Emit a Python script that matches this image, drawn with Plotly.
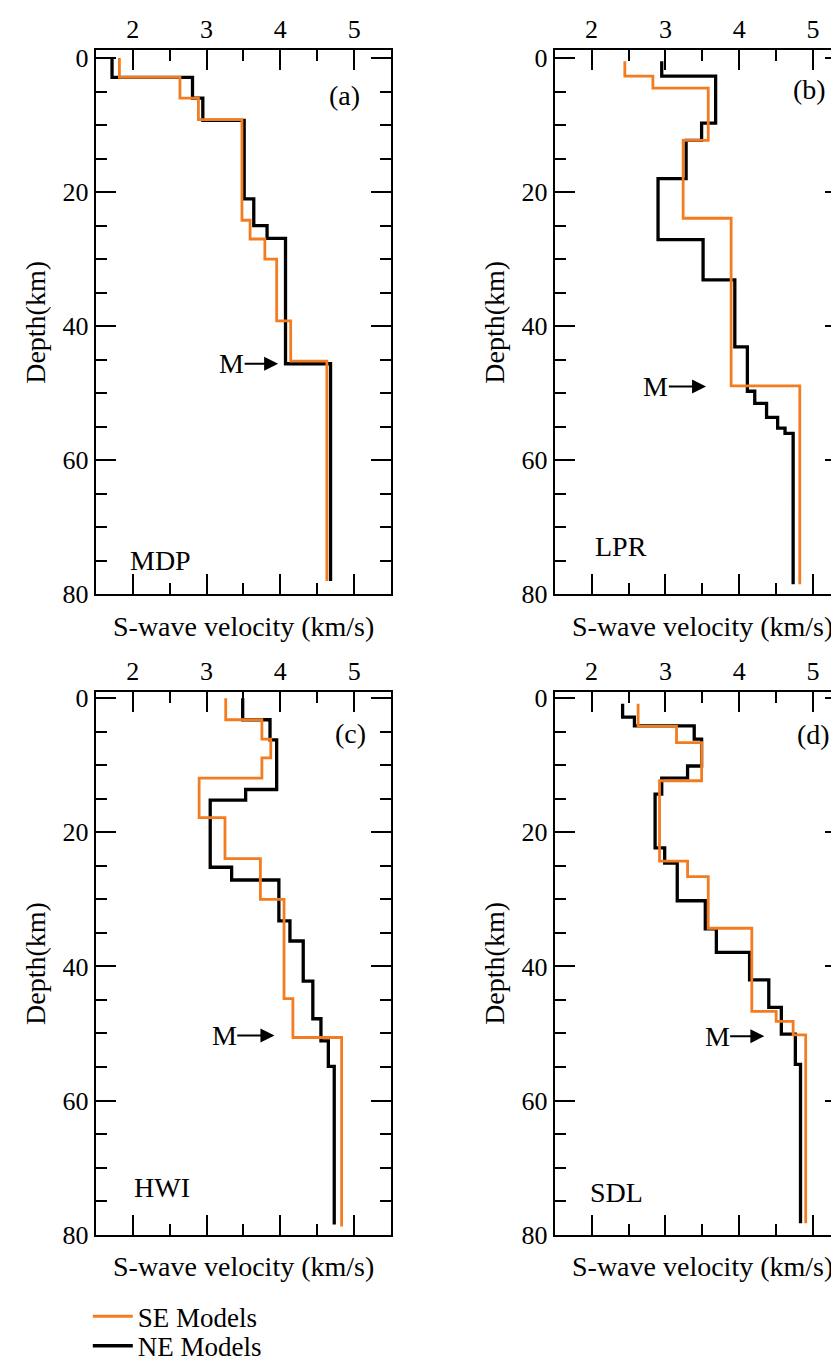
import plotly.graph_objects as go

# ---------------- data (S-wave velocity models, km/s vs depth, km) ----------------
stations = ["MDP", "LPR", "HWI", "SDL"]
panel_tags = ["(a)", "(b)", "(c)", "(d)"]

# MDP
mdp_ne_top = [0, 2.9, 6.0, 9.3, 21.0, 25.0, 26.9, 45.6]
mdp_ne_vs = [1.72, 2.81, 2.95, 3.51, 3.64, 3.82, 4.07, 4.68]
mdp_ne_bottom = 78.0
mdp_se_top = [0, 2.9, 6.0, 9.2, 24.2, 27.0, 30.0, 39.2, 45.2]
mdp_se_vs = [1.82, 2.64, 2.89, 3.48, 3.59, 3.79, 3.95, 4.14, 4.63]
mdp_se_bottom = 78.0

# LPR
lpr_ne_top = [0.5, 2.7, 9.7, 12.3, 18.0, 27.1, 33.1, 43.1, 49.7, 51.5, 53.6, 55.2, 56.0]
lpr_ne_vs = [2.95, 3.68, 3.49, 3.28, 2.90, 3.51, 3.94, 4.11, 4.21, 4.37, 4.52, 4.62, 4.73]
lpr_ne_bottom = 78.5
lpr_se_top = [0.5, 2.7, 4.5, 12.3, 23.9, 48.9]
lpr_se_vs = [2.45, 2.83, 3.58, 3.24, 3.89, 4.82]
lpr_se_bottom = 78.5

# HWI
hwi_ne_top = [0, 3.2, 6.2, 13.6, 15.2, 25.2, 27.1, 33.2, 36.2, 42.2, 47.8, 51.1, 54.9]
hwi_ne_vs = [3.49, 3.86, 3.95, 3.53, 3.05, 3.34, 3.98, 4.13, 4.31, 4.44, 4.55, 4.65, 4.73]
hwi_ne_bottom = 78.5
hwi_se_top = [0, 3.2, 6.1, 8.9, 11.9, 17.8, 23.9, 30.0, 44.8, 50.6]
hwi_se_vs = [3.26, 3.75, 3.87, 3.75, 2.90, 3.25, 3.73, 4.05, 4.17, 4.83]
hwi_se_bottom = 78.8

# SDL
sdl_ne_top = [0.8, 2.8, 4.1, 6.1, 10.1, 11.9, 14.3, 22.3, 24.6, 30.2, 34.4, 37.9, 42.0, 46.1, 50.1, 54.6]
sdl_ne_vs = [2.42, 2.58, 3.39, 3.49, 3.30, 2.95, 2.86, 2.99, 3.16, 3.54, 3.69, 4.14, 4.40, 4.57, 4.76, 4.83]
sdl_ne_bottom = 78.3
sdl_se_top = [0.8, 4.2, 6.6, 12.3, 24.3, 26.6, 34.3, 46.7, 48.2, 50.2]
sdl_se_vs = [2.63, 3.15, 3.49, 2.92, 3.30, 3.58, 4.17, 4.50, 4.73, 4.90]
sdl_se_bottom = 78.3

# Moho marker ("M ->"): text velocity, arrow-tip velocity, depth
moho_text_vs = [3.34, 2.87, 3.24, 3.70]
moho_tip_vs = [3.97, 3.55, 3.92, 4.34]
moho_depth = [45.6, 49.0, 50.3, 50.4]

# label positions (velocity, depth)
tag_vs = [4.87, 4.95, 4.95, 5.0]
tag_depth = [5.6, 4.7, 5.3, 5.4]
station_vs = [2.38, 2.40, 2.40, 2.34]
station_depth = [74.9, 72.8, 72.9, 73.7]

x_tick_vals = [2, 3, 4, 5]
y_tick_vals = [0, 20, 40, 60, 80]

x_title = "S-wave velocity (km/s)"
y_title = "Depth(km)"
se_name = "SE Models"
ne_name = "NE Models"

models = [
    (mdp_ne_top, mdp_ne_vs, mdp_ne_bottom, mdp_se_top, mdp_se_vs, mdp_se_bottom),
    (lpr_ne_top, lpr_ne_vs, lpr_ne_bottom, lpr_se_top, lpr_se_vs, lpr_se_bottom),
    (hwi_ne_top, hwi_ne_vs, hwi_ne_bottom, hwi_se_top, hwi_se_vs, hwi_se_bottom),
    (sdl_ne_top, sdl_ne_vs, sdl_ne_bottom, sdl_se_top, sdl_se_vs, sdl_se_bottom),
]

# ---------------- layout geometry ----------------
W, H = 839, 1365
FONT = "Liberation Serif, Times New Roman, serif"
ORANGE = "#F47C20"
BLACK = "#000000"

panel_px_x = [(88, 384), (548, 839), (88, 384), (548, 839)]
panel_px_y = [(35, 588.3), (35, 588.3), (688, 1239.5), (688, 1239.5)]
px_per_unit = 74.0
y_ranges = [[80, -1.13], [80, -1.13], [80, -0.88], [80, -0.88]]
x_title_py = [621, 621, 1272, 1272]


def fx(px):
    return px / W


def fy(py):
    return 1 - py / H


fig = go.Figure()

for i, (ne_top, ne_vs, ne_bot, se_top, se_vs, se_bot) in enumerate(models):
    ax = "" if i == 0 else str(i + 1)
    fig.add_trace(go.Scatter(
        x=ne_vs + [ne_vs[-1]], y=ne_top + [ne_bot], mode="lines",
        line=dict(color=BLACK, width=3.3, shape="vh"),
        name=ne_name, showlegend=(i == 0), legend="legend2",
        xaxis="x" + ax, yaxis="y" + ax,
    ))
    fig.add_trace(go.Scatter(
        x=se_vs + [se_vs[-1]], y=se_top + [se_bot], mode="lines",
        line=dict(color=ORANGE, width=2.8, shape="vh"),
        name=se_name, showlegend=(i == 0), legend="legend",
        xaxis="x" + ax, yaxis="y" + ax,
    ))

legend_common = dict(
    xanchor="left", yanchor="middle",
    font=dict(family=FONT, size=27, color=BLACK),
    bgcolor="rgba(0,0,0,0)", itemwidth=40,
)

layout = dict(
    width=W, height=H,
    margin=dict(l=0, r=0, t=0, b=0),
    paper_bgcolor="white", plot_bgcolor="white",
    font=dict(family=FONT, size=26, color=BLACK),
    showlegend=True,
    legend=dict(x=fx(80), y=fy(1323), **legend_common),
    legend2=dict(x=fx(80), y=fy(1353), **legend_common),
)

annotations = []
for i in range(4):
    ax = "" if i == 0 else str(i + 1)
    x0, x1 = panel_px_x[i]
    y0, y1 = panel_px_y[i]
    xmax = 1.5 + (x1 - x0) / px_per_unit
    layout["xaxis" + ax] = dict(
        domain=[fx(x0), fx(x1)], range=[1.5, xmax], side="top",
        anchor="y" + ax, tickvals=x_tick_vals,
        ticks="inside", ticklen=20, tickwidth=2, tickcolor=BLACK,
        minor=dict(ticks="inside", dtick=0.5, tick0=1.5, ticklen=11, tickwidth=2, tickcolor=BLACK),
        showline=True, linewidth=2, linecolor=BLACK, mirror="ticks",
        showgrid=False, zeroline=False,
        tickfont=dict(family=FONT, size=26, color=BLACK),
    )
    layout["yaxis" + ax] = dict(
        domain=[fy(y1), fy(y0)], range=y_ranges[i],
        anchor="x" + ax, tickvals=y_tick_vals,
        ticks="inside", ticklen=20, tickwidth=2, tickcolor=BLACK,
        minor=dict(ticks="inside", dtick=5, tick0=0, ticklen=11, tickwidth=2, tickcolor=BLACK),
        showline=True, linewidth=2, linecolor=BLACK, mirror="ticks",
        showgrid=False, zeroline=False,
        tickfont=dict(family=FONT, size=26, color=BLACK),
    )
    # axis titles
    annotations.append(dict(
        text=x_title, xref="paper", yref="paper",
        x=fx((x0 + x0 + 4 * px_per_unit) / 2), y=fy(x_title_py[i]),
        xanchor="center", yanchor="middle", showarrow=False,
        font=dict(family=FONT, size=28, color=BLACK),
    ))
    annotations.append(dict(
        text=y_title, xref="paper", yref="paper",
        x=fx(x0 - 60.5), y=fy((y0 + y1) / 2), textangle=-90,
        xanchor="center", yanchor="middle", showarrow=False,
        font=dict(family=FONT, size=28, color=BLACK),
    ))
    # panel tag and station name
    annotations.append(dict(
        text=panel_tags[i], xref="x" + ax, yref="y" + ax,
        x=tag_vs[i], y=tag_depth[i], showarrow=False,
        font=dict(family=FONT, size=28, color=BLACK),
    ))
    annotations.append(dict(
        text=stations[i], xref="x" + ax, yref="y" + ax,
        x=station_vs[i], y=station_depth[i], showarrow=False,
        font=dict(family=FONT, size=28, color=BLACK),
    ))
    # Moho marker
    annotations.append(dict(
        text="M", xref="x" + ax, yref="y" + ax,
        x=moho_tip_vs[i], y=moho_depth[i],
        axref="x" + ax, ayref="y" + ax,
        ax=moho_text_vs[i], ay=moho_depth[i],
        showarrow=True, arrowhead=2, arrowsize=1.4, arrowwidth=2,
        arrowcolor=BLACK, standoff=0, borderpad=0,
        font=dict(family=FONT, size=28, color=BLACK),
    ))

layout["annotations"] = annotations
fig.update_layout(**layout)

fig.write_html("out.html")
